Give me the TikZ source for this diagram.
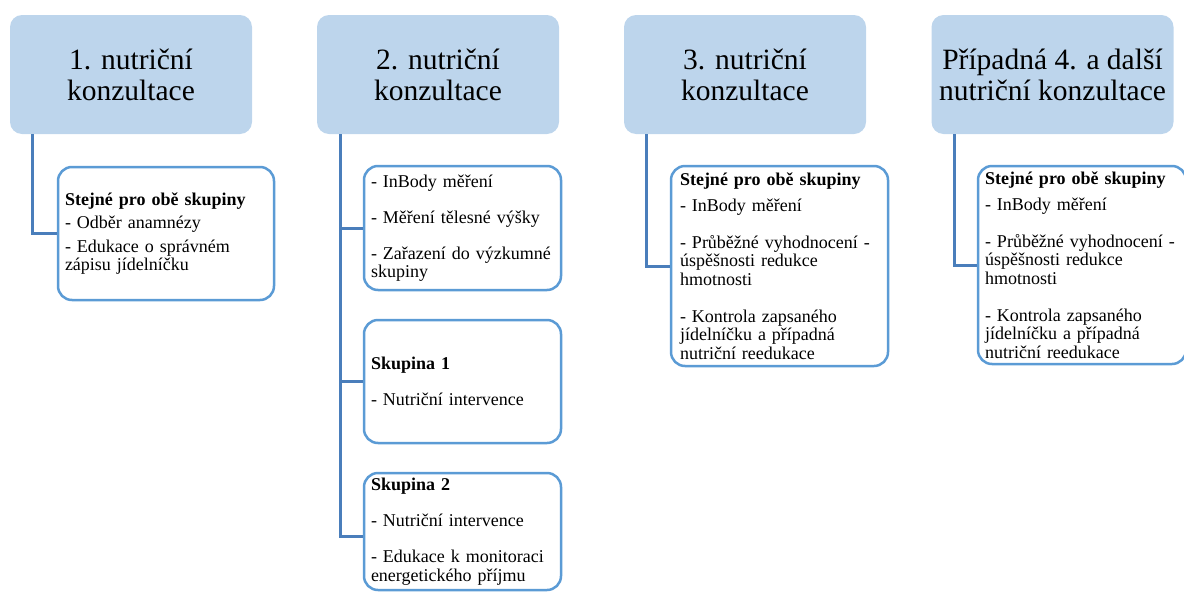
\documentclass[tikz,border=0pt]{standalone}
\usepackage{fontspec}
\setmainfont{Liberation Serif}
\usetikzlibrary{calc}
\definecolor{headblue}{HTML}{BDD5EC}
\definecolor{boxblue}{HTML}{5B9BD5}
\definecolor{lineblue}{HTML}{4A7EBB}

\begin{document}
\begin{tikzpicture}
		[x=1pt, y=-1pt,
			head/.style ={rectangle, fill=headblue, rounded corners=12pt, minimum width=242pt, minimum height=119pt, align=center, font=\fontsize{29.5}{31}\selectfont},
 item/.style ={rectangle, draw=boxblue, line width=2.5pt, fill=white, rounded corners=14pt, align=left, inner xsep=7pt, inner ysep=2pt, font=\fontsize{18}{18.5}\selectfont},
 line/.style ={draw=lineblue, line width=3pt}]
		\useasboundingbox (0,0) rectangle (1184,592);
		% consultations
		\node[head] (H1) at (131,74.5) {1. nutriční\\konzultace};
		\node[head] (H2) at (438,74.5) {2. nutriční\\konzultace};
		\node[head] (H3) at (745,74.5) {3. nutriční\\konzultace};
		\node[head] (H4) at (1052.5,74.5) {Případná 4. a další\\nutriční konzultace};
		% contents
		\node[item, text width=202pt, minimum height=133pt] (B1) at (166,233.5)
			{\textbf{Stejné pro obě skupiny}\\[5pt]- Odběr anamnézy\\[5pt]- Edukace o správném\\zápisu jídelníčku};
		\node[item, text width=183pt, minimum height=124pt] (B2a) at (462.5,228)
			{- InBody měření\\[17.5pt]- Měření tělesné výšky\\[17.5pt]- Zařazení do výzkumné\\skupiny};
		\node[item, text width=183pt, minimum height=123pt] (B2b) at (462.5,381.5)
			{\textbf{Skupina 1}\\[17.5pt]- Nutriční intervence};
		\node[item, text width=183pt, minimum height=117pt] (B2c) at (462.5,531.5)
			{\textbf{Skupina 2}\\[17.5pt]- Nutriční intervence\\[17.5pt]- Edukace k monitoraci\\energetického příjmu};
		\node[item, text width=199pt, minimum height=200pt, inner xsep=9pt] (B3) at (779.5,266)
			{\textbf{Stejné pro obě skupiny}\\[7.5pt]- InBody měření\\[18.5pt]- Průběžné vyhodnocení -\\úspěšnosti redukce\\hmotnosti\\[18.5pt]- Kontrola zapsaného\\jídelníčku a případná\\nutriční reedukace};
		\node[item, text width=194pt, minimum height=198pt] (B4) at (1082,265)
			{\textbf{Stejné pro obě skupiny}\\[7.5pt]- InBody měření\\[18.5pt]- Průběžné vyhodnocení -\\úspěšnosti redukce\\hmotnosti\\[18.5pt]- Kontrola zapsaného\\jídelníčku a případná\\nutriční reedukace};
		% connectors
		\draw[line] ([xshift=23pt]H1.south west) |- (B1.west);
		\draw[line] ([xshift=24pt]H2.south west) |- (B2a.west);
		\draw[line] ([xshift=24pt]H2.south west) |- (B2b.west);
		\draw[line] ([xshift=24pt]H2.south west) |- ([yshift=-4.5pt]B2c.west);
		\draw[line] ([xshift=23pt]H3.south west) |- (B3.west);
		\draw[line] ([xshift=23pt]H4.south west) |- (B4.west);
	\end{tikzpicture}
\end{document}
